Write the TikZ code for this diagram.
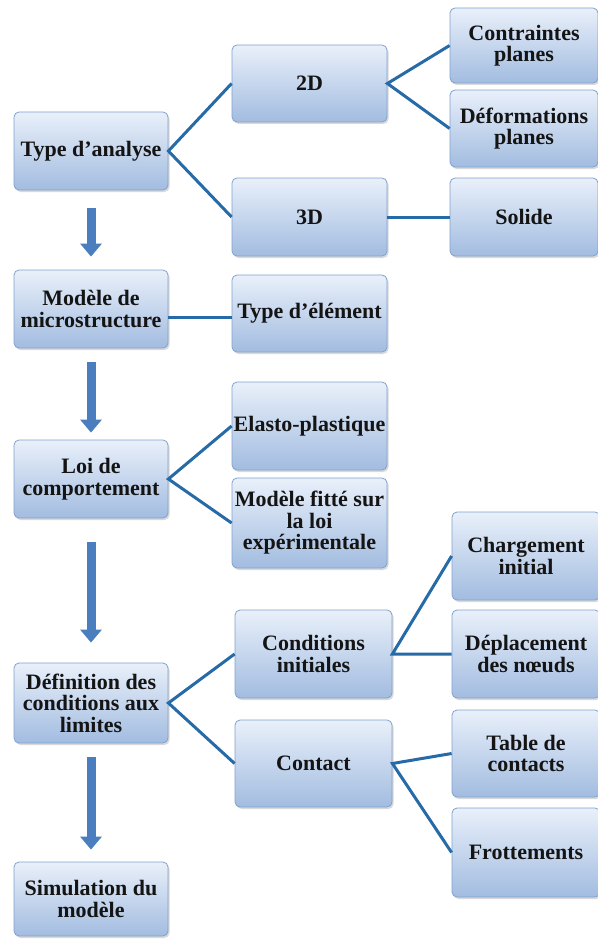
\documentclass[tikz,border=0pt]{standalone}
\usepackage{fontspec}
\setmainfont{Liberation Serif}
\usetikzlibrary{arrows.meta,shadows}
\definecolor{boxtop}{RGB}{233,240,250}
\definecolor{boxbot}{RGB}{162,188,224}
\definecolor{boxline}{RGB}{128,162,206}
\definecolor{linkblue}{RGB}{38,106,168}
\definecolor{flowblue}{RGB}{74,126,190}
\tikzset{
  box/.style={rectangle,rounded corners=5pt,draw=boxline,line width=0.8pt,
    top color=boxtop,bottom color=boxbot,
    drop shadow={shadow xshift=1.5pt,shadow yshift=-2pt,opacity=0.3},
    align=center,inner sep=1pt,text=black!92,
    font=\bfseries\fontsize{22}{21.5}\selectfont},
  leftbox/.style={box,minimum width=154pt},
  midbox/.style={box,minimum width=155pt},
  rightbox/.style={box,minimum width=148pt},
  link/.style={draw=linkblue,line width=3pt},
  flow/.style={draw=flowblue,line width=9pt,-{Triangle[width=21pt,length=13pt]}}
}
\begin{document}
\begin{tikzpicture}[x=1pt,y=-1pt]
\path[use as bounding box] (0,0) rectangle (597,939);
% left column
\node[leftbox,minimum height=78pt] (analyse) at (91,151) {Type d’analyse};
\node[leftbox,minimum height=78pt] (micro) at (91,309) {Modèle de\\microstructure};
\node[leftbox,minimum height=78pt] (loi) at (91,479) {Loi de\\comportement};
\node[leftbox,minimum height=80pt] (limites) at (91,703) {Définition des\\conditions aux\\limites};
\node[leftbox,minimum height=74pt] (simul) at (91,899) {Simulation du\\modèle};
% middle column
\node[midbox,minimum height=77pt] (d2) at (309.5,83.5) {2D};
\node[midbox,minimum height=78pt] (d3) at (309.5,217) {3D};
\node[midbox,minimum height=77pt] (element) at (309.5,313.5) {Type d’élément};
\node[midbox,minimum height=88pt] (elasto) at (309.5,426) {Elasto-plastique};
\node[midbox,minimum height=90pt] (fitte) at (309.5,523) {Modèle fitté sur\\la loi\\expérimentale};
\node[midbox,minimum width=157pt,minimum height=88pt] (initiales) at (313.5,654) {Conditions\\initiales};
\node[midbox,minimum width=157pt,minimum height=87pt] (contact) at (313.5,763.5) {Contact};
% right column
\node[rightbox,minimum height=75pt] (contraintes) at (524,45.5) {Contraintes\\planes};
\node[rightbox,minimum height=77pt] (deform) at (524,128.5) {Déformations\\planes};
\node[rightbox,minimum height=78pt] (solide) at (524,217) {Solide};
\node[rightbox,minimum height=88pt] (charg) at (526,556) {Chargement\\initial};
\node[rightbox,minimum height=88pt] (deplac) at (526,654) {Déplacement\\des nœuds};
\node[rightbox,minimum height=87pt] (table) at (526,753.5) {Table de\\contacts};
\node[rightbox,minimum height=89pt] (frott) at (526,852.5) {Frottements};
% links
\draw[link] (d2.west) -- (analyse.east) -- (d3.west);
\draw[link] (contraintes.west) -- (d2.east) -- (deform.west);
\draw[link] (d3.east) -- (solide.west);
\draw[link] ([yshift=-8pt]micro.east) -- ([yshift=-8pt]micro.east -| element.west);
\draw[link] (elasto.west) -- (loi.east) -- (fitte.west);
\draw[link] (initiales.west) -- (limites.east) -- (contact.west);
\draw[link] (charg.west) -- (initiales.east) -- (deplac.west);
\draw[link] (table.west) -- (contact.east) -- (frott.west);
% flow arrows
\draw[flow,shorten <=18pt,shorten >=13pt] (analyse.south) -- (micro.north);
\draw[flow,shorten <=14pt,shorten >=7pt] (micro.south) -- (loi.north);
\draw[flow,shorten <=24pt,shorten >=20pt] (loi.south) -- (limites.north);
\draw[flow,shorten <=14pt,shorten >=12pt] (limites.south) -- (simul.north);
\end{tikzpicture}
\end{document}
